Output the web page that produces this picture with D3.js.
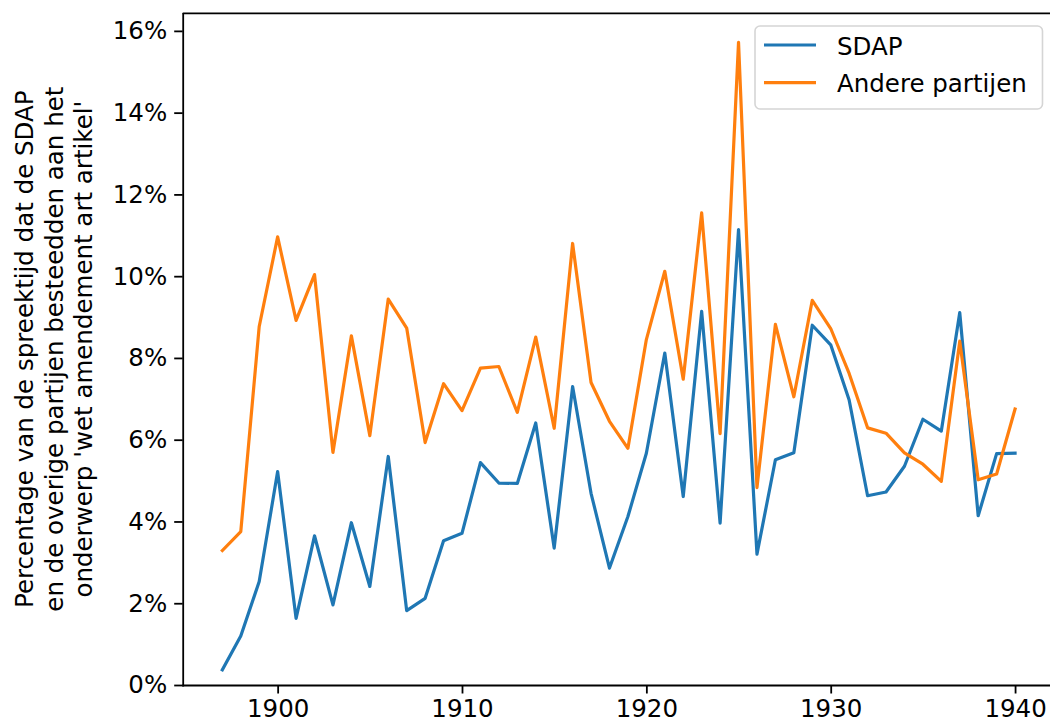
<!DOCTYPE html>
<html>
<head>
<script src="https://cdn.jsdelivr.net/npm/d3@7"></script>
  <style type="text/css">
    body {
      margin: 0;
      background: #fff;
      font-family: "DejaVu Sans", sans-serif;
    }
    .line {
      fill: none;
      stroke-width: 3.2px;
      stroke-linejoin: round;
      stroke-linecap: square;
    }
    .axis path, .axis line {
      stroke: #000;
      stroke-width: 1.8px;
    }
    .axis text {
      font-family: "DejaVu Sans", sans-serif;
      font-size: 24.5px;
      fill: #000;
    }
  </style>
</head>
<body>
  <script type="text/javascript">

  var years = [1897, 1898, 1899, 1900, 1901, 1902, 1903, 1904, 1905, 1906,
               1907, 1908, 1909, 1910, 1911, 1912, 1913, 1914, 1915, 1916,
               1917, 1918, 1919, 1920, 1921, 1922, 1923, 1924, 1925, 1926,
               1927, 1928, 1929, 1930, 1931, 1932, 1933, 1934, 1935, 1936,
               1937, 1938, 1939, 1940];

  // percentages
  var sdap = [0.37, 1.20, 2.53, 5.22, 1.63, 3.65, 1.96, 3.97, 2.41, 5.59,
              1.82, 2.12, 3.53, 3.71, 5.44, 4.94, 4.93, 6.41, 3.35, 7.30,
              4.69, 2.86, 4.12, 5.67, 8.12, 4.61, 9.14, 3.96, 11.14, 3.20,
              5.51, 5.68, 8.80, 8.32, 6.97, 4.63, 4.72, 5.35, 6.50, 6.21,
              9.11, 4.14, 5.66, 5.67];

  var andere = [3.29, 3.75, 8.77, 10.96, 8.92, 10.04, 5.69, 8.54, 6.10, 9.44,
                8.73, 5.93, 7.37, 6.71, 7.75, 7.79, 6.67, 8.51, 6.28, 10.80,
                7.40, 6.45, 5.79, 8.45, 10.12, 7.48, 11.55, 6.15, 15.72, 4.83,
                8.82, 7.05, 9.41, 8.72, 7.62, 6.29, 6.16, 5.68, 5.40, 4.98,
                8.41, 5.02, 5.16, 6.75];

  var seriesNames = ["SDAP", "Andere partijen"];
  var seriesColors = ["#1f77b4", "#ff7f0e"];
  var xTicks = [1900, 1910, 1920, 1930, 1940];
  var yTicks = [0, 2, 4, 6, 8, 10, 12, 14, 16];
  var yLabel = ["Percentage van de spreektijd dat de SDAP",
                "en de overige partijen besteedden aan het",
                "onderwerp 'wet amendement art artikel'"];

  var W = 1050, H = 727;
  var margin = {top: 13.3, bottom: 42, left: 182.7, right: -4.7};
  var width = W - margin.left - margin.right;
  var height = H - margin.top - margin.bottom;

  var svg = d3.select("body").append("svg")
              .attr("width", W)
              .attr("height", H);

  var g = svg.append("g")
              .attr("transform", "translate(" + margin.left + "," + margin.top + ")");

  var x = d3.scaleLinear().domain([1894.85, 1942.15]).range([0, width]);
  var y = d3.scaleLinear().domain([0, 16.43]).range([height, 0]);

  /////////////////////////

  var series = [sdap, andere];

  var line = d3.line()
      .x(function(d, i) { return x(years[i]); })
      .y(function(d) { return y(d); });

  g.selectAll(".line")
      .data(series)
    .enter().append("path")
      .attr("class", "line")
      .attr("stroke", function(d, i) { return seriesColors[i]; })
      .attr("d", line);

  // axes
  var xAxis = d3.axisBottom(x)
      .tickValues(xTicks)
      .tickFormat(d3.format("d"))
      .tickSize(8.5)
      .tickSizeOuter(0)
      .tickPadding(6);

  var yAxis = d3.axisLeft(y)
      .tickValues(yTicks)
      .tickFormat(function(d) { return d + "%"; })
      .tickSize(8.5)
      .tickSizeOuter(0)
      .tickPadding(7);

  g.append("g")
      .attr("class", "axis")
      .attr("transform", "translate(0," + height + ")")
      .call(xAxis);

  g.append("g")
      .attr("class", "axis")
      .call(yAxis);

  // top spine (right one falls outside the picture)
  g.append("line")
      .attr("x1", 0).attr("x2", width)
      .attr("y1", 0).attr("y2", 0)
      .attr("stroke", "#000").attr("stroke-width", 1.8);

  g.selectAll(".domain").attr("stroke-linecap", "square");

  // y label, three centered lines
  var ylab = svg.append("text")
      .attr("transform", "translate(0," + (margin.top + height / 2) + ") rotate(-90)")
      .attr("text-anchor", "middle")
      .style("font-family", "'DejaVu Sans', sans-serif")
      .style("font-size", "24.5px")
      .attr("fill", "#000");

  ylab.selectAll("tspan")
      .data(yLabel)
    .enter().append("tspan")
      .attr("x", 0)
      .attr("y", function(d, i) { return 33 + i * 29.5; })
      .text(function(d) { return d; });

  // legend
  var legend = svg.append("g")
      .attr("transform", "translate(755,26)");

  legend.append("rect")
      .attr("width", 287.5)
      .attr("height", 83)
      .attr("rx", 5)
      .attr("fill", "#fff")
      .attr("fill-opacity", 0.8)
      .attr("stroke", "#d5d5d5")
      .attr("stroke-width", 1.6);

  var item = legend.selectAll(".item")
      .data(seriesNames)
    .enter().append("g")
      .attr("class", "item")
      .attr("transform", function(d, i) { return "translate(0," + (19 + i * 37.7) + ")"; });

  item.append("line")
      .attr("x1", 9).attr("x2", 61)
      .attr("stroke-width", 3.2)
      .attr("stroke", function(d, i) { return seriesColors[i]; });

  item.append("text")
      .attr("x", 82)
      .attr("y", 9.5)
      .style("font-size", "24.5px")
      .attr("fill", "#000")
      .text(function(d) { return d; });

  </script>
</body>
</html>
